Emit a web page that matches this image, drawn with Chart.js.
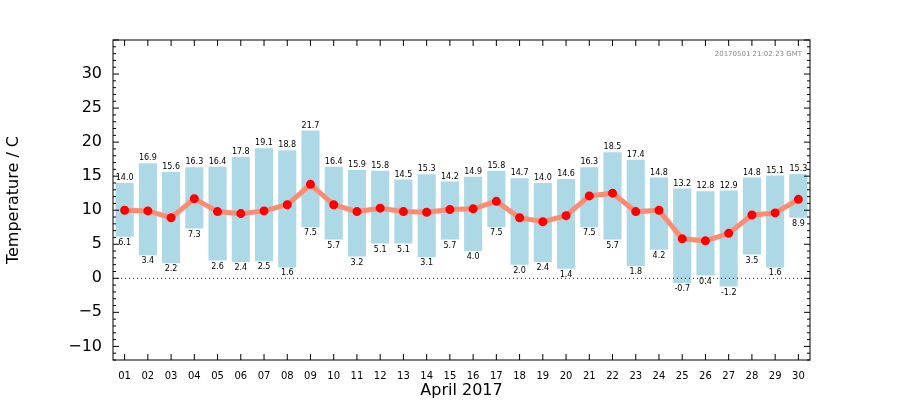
<!DOCTYPE html><html><head><script src="https://cdn.jsdelivr.net/npm/chart.js@4"></script>
<style>body{margin:0;background:#fff}#w{width:900px;height:400px}</style></head><body><div id="w"><canvas id="c"></canvas></div>
<script>
const days=['01','02','03','04','05','06','07','08','09','10','11','12','13','14','15','16','17','18','19','20','21','22','23','24','25','26','27','28','29','30'];
const tMax=[14.0,16.9,15.6,16.3,16.4,17.8,19.1,18.8,21.7,16.4,15.9,15.8,14.5,15.3,14.2,14.9,15.8,14.7,14.0,14.6,16.3,18.5,17.4,14.8,13.2,12.8,12.9,14.8,15.1,15.3];
const tMin=[6.1,3.4,2.2,7.3,2.6,2.4,2.5,1.6,7.5,5.7,3.2,5.1,5.1,3.1,5.7,4.0,7.5,2.0,2.4,1.4,7.5,5.7,1.8,4.2,-0.7,0.4,-1.2,3.5,1.6,8.9];
const tMean=[10.0,9.9,8.9,11.7,9.8,9.5,9.9,10.8,13.8,10.8,9.8,10.3,9.8,9.7,10.1,10.2,11.3,8.9,8.3,9.2,12.1,12.5,9.8,10.0,5.8,5.5,6.6,9.3,9.6,11.6];
const yTicks=[-10,-5,0,5,10,15,20,25,30];
const F='"DejaVu Sans"';
const plug={id:'p',afterDatasetsDraw(ch){
 const c=ch.ctx,a=ch.chartArea,x=ch.scales.x,y=ch.scales.y;
 c.save();
 c.strokeStyle='blue';c.lineWidth=1;c.setLineDash([1,3]);
 const y0=y.getPixelForValue(0);c.beginPath();c.moveTo(a.left,y0);c.lineTo(a.right,y0);c.stroke();c.setLineDash([]);
 c.fillStyle='#000';c.font='8px '+F;c.textAlign='center';
 days.forEach((d,i)=>{const px=x.getPixelForValue(i);
  c.textBaseline='bottom';c.fillText(tMax[i].toFixed(1),px,y.getPixelForValue(tMax[i])-1);
  c.textBaseline='top';c.fillText(tMin[i].toFixed(1),px,y.getPixelForValue(tMin[i])+2);});
 c.strokeStyle='#000';c.lineWidth=1;c.strokeRect(a.left,a.top,a.right-a.left,a.bottom-a.top);
 c.beginPath();
 for(let v=-12;v<=35;v++){const py=y.getPixelForValue(v);const L=(v%5===0)?6:3;
  c.moveTo(a.left,py);c.lineTo(a.left+L,py);c.moveTo(a.right,py);c.lineTo(a.right-L,py);}
 days.forEach((d,i)=>{const px=x.getPixelForValue(i);c.moveTo(px,a.bottom);c.lineTo(px,a.bottom-6);c.moveTo(px,a.top);c.lineTo(px,a.top+6);});
 c.stroke();
 c.fillStyle='#888';c.font='7px '+F;c.textAlign='right';c.textBaseline='top';c.fillText('20170501 21:02:23 GMT',a.right-8,a.top+11);
 c.restore();}};
new Chart(document.getElementById('c'),{
 data:{labels:days,datasets:[
  {type:'line',data:tMean,borderColor:'#f98c73',borderWidth:5,pointBackgroundColor:'red',pointBorderColor:'red',pointRadius:2,tension:0,order:0},
  {type:'bar',data:days.map((d,i)=>[tMin[i],tMax[i]]),backgroundColor:'#add8e6',barPercentage:0.78,categoryPercentage:1,order:1}]},
 options:{responsive:true,maintainAspectRatio:false,animation:false,
  layout:{padding:{top:40,right:90,left:0,bottom:0}},
  plugins:{legend:{display:false},tooltip:{enabled:false}},
  scales:{
   x:{grid:{display:false},border:{display:false},ticks:{font:{size:10,family:F},color:'#000',maxRotation:0,padding:2},
     title:{display:true,text:'April 2017',font:{size:16,family:F},color:'#000',padding:0},
     afterFit(s){s.height=40;}},
   y:{min:-12,max:35,grid:{display:false},border:{display:false},
     afterBuildTicks(s){s.ticks=yTicks.map(v=>({value:v}));},
     ticks:{font:{size:16,family:F},color:'#000',callback:v=>String(v).replace('-','\u2212')},
     title:{display:true,text:'Temperature / C',font:{size:16,family:F},color:'#000'},
     afterFit(s){s.width=113;}}}},
 plugins:[plug]});
</script></body></html>
